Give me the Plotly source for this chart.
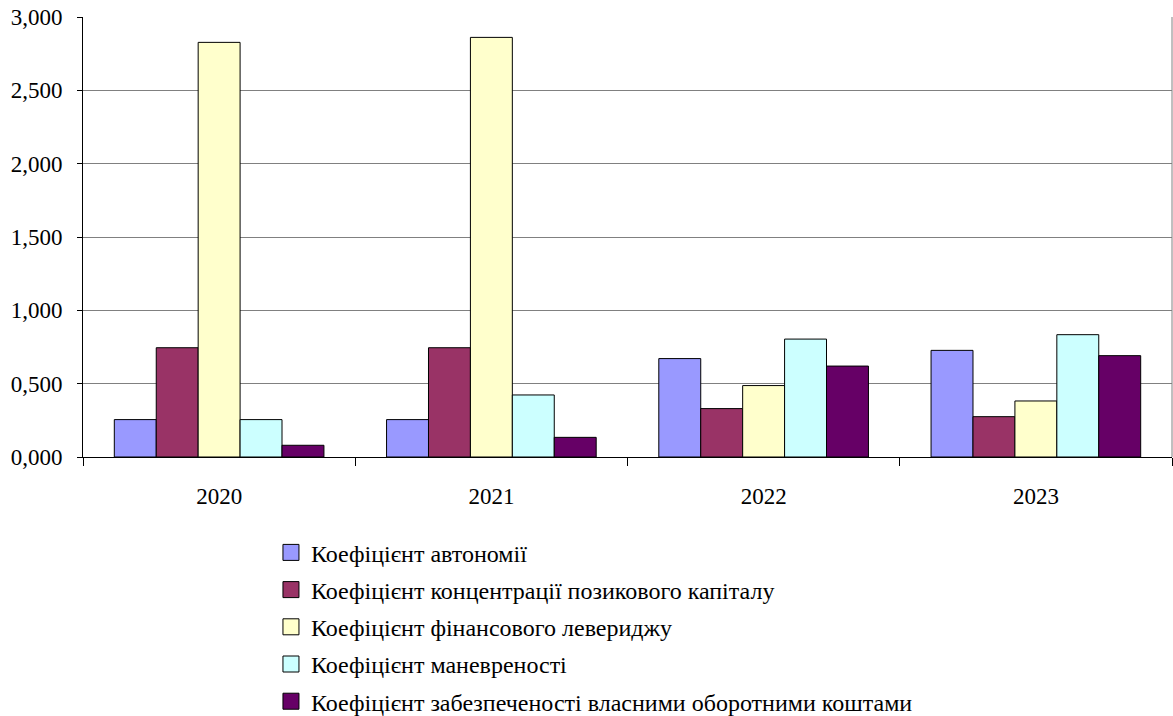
import plotly.graph_objects as go

years = ["2020", "2021", "2022", "2023"]
series_names = [
    "Коефіцієнт автономії",
    "Коефіцієнт концентрації позикового капіталу",
    "Коефіцієнт фінансового левериджу",
    "Коефіцієнт маневреності",
    "Коефіцієнт забезпеченості власними оборотними коштами",
]
autonomy = [0.255, 0.255, 0.671, 0.727]
concentration = [0.745, 0.745, 0.330, 0.275]
leverage = [2.827, 2.861, 0.487, 0.382]
maneuver = [0.255, 0.423, 0.804, 0.834]
working_capital = [0.080, 0.134, 0.620, 0.691]
colors = ["#9999FF", "#993366", "#FFFFCC", "#CCFFFF", "#660066"]
y_ticks = [0, 0.5, 1.0, 1.5, 2.0, 2.5, 3.0]

font_family = "'Times New Roman', 'Liberation Serif', 'DejaVu Serif', serif"

fig = go.Figure()
all_series = [autonomy, concentration, leverage, maneuver, working_capital]
for i, (name, vals) in enumerate(zip(series_names, all_series)):
    fig.add_trace(go.Bar(
        x=years, y=vals, name=name, legendgroup=f"g{i}", showlegend=False,
        marker=dict(color=colors[i], line=dict(color="#000000", width=1)),
    ))
# legend entries (square swatches like the original)
for i, name in enumerate(series_names):
    fig.add_trace(go.Scatter(
        x=[None], y=[None], mode="markers", name=name, legendgroup=f"g{i}",
        marker=dict(symbol="square", size=16, color=colors[i],
                    line=dict(color="#000000", width=1)),
    ))

fig.update_layout(
    width=1173, height=716,
    margin=dict(l=83, r=1, t=17, b=259, autoexpand=False),
    paper_bgcolor="white", plot_bgcolor="white",
    barmode="group", bargap=0.23, bargroupgap=0,
    separators=", ",
    font=dict(family=font_family, size=23, color="#000000"),
    showlegend=True,
    legend=dict(
        x=0.1726, y=-0.1666, xanchor="left", yanchor="top",
        traceorder="grouped", tracegroupgap=3, itemsizing="trace",
        font=dict(family=font_family, size=24, color="#000000"),
        bgcolor="rgba(0,0,0,0)", itemwidth=30,
    ),
)
fig.update_xaxes(
    showline=True, linecolor="#000000", linewidth=1,
    ticks="outside", tickson="boundaries", ticklen=8, tickcolor="#000000",
    showgrid=False, mirror=False, ticklabelstandoff=18,
    tickfont=dict(family=font_family, size=23, color="#000000"),
)
fig.update_yaxes(
    range=[0, 3.0], tickvals=y_ticks, tickformat=".3f",
    showgrid=True, gridcolor="#808080", gridwidth=1,
    showline=True, linecolor="#000000", linewidth=1,
    ticks="outside", ticklen=5, tickcolor="#000000",
    zeroline=False, ticklabelstandoff=10,
    tickfont=dict(family=font_family, size=23, color="#000000"),
)
# right border of plot area
fig.add_shape(type="line", xref="paper", yref="paper", x0=1, x1=1, y0=0, y1=1,
              line=dict(color="#808080", width=1))

fig.write_html("out.html")
